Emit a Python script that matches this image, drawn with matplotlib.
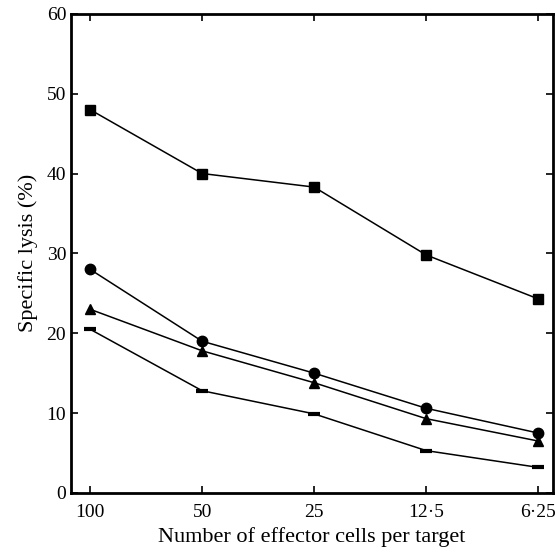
import numpy as np
import matplotlib.pyplot as plt

plt.rcParams['font.family'] = ['Liberation Serif', 'DejaVu Serif']

# Effector:target ratios
ratios = ['100', '50', '25', '12·5', '6·25']

# Specific lysis (%) for each group
squares = [48.0, 40.0, 38.3, 29.8, 24.3]
circles = [28.0, 19.0, 15.0, 10.6, 7.5]
triangles = [23.0, 17.8, 13.8, 9.3, 6.5]
dashes = [20.5, 12.8, 9.9, 5.3, 3.2]

x = np.arange(len(ratios))

fig = plt.figure(figsize=(5.55, 5.52), dpi=100)
ax = fig.add_axes([0.128, 0.107, 0.868, 0.868])

ax.plot(x, squares, color='black', lw=1.1, marker='s', ms=7.5)
ax.plot(x, circles, color='black', lw=1.1, marker='o', ms=7.5)
ax.plot(x, triangles, color='black', lw=1.1, marker='^', ms=7.5)
ax.plot(x, dashes, color='black', lw=1.1, marker='_', ms=9, mew=3)

ax.set_xlim(-0.17, 4.13)
ax.set_ylim(0, 60)
ax.set_xticks(x)
ax.set_xticklabels(ratios)
ax.set_yticks(np.arange(0, 61, 10))

for s in ax.spines.values():
    s.set_linewidth(2)

ax.tick_params(direction='in', length=5, width=1.2, labelsize=14,
               top=True, right=True)
ax.tick_params(axis='x', pad=8)
ax.set_xlabel('Number of effector cells per target', fontsize=16, labelpad=4)
ax.set_ylabel('Specific lysis (%)', fontsize=16, labelpad=6)

fig.savefig('out.png', dpi=100)
